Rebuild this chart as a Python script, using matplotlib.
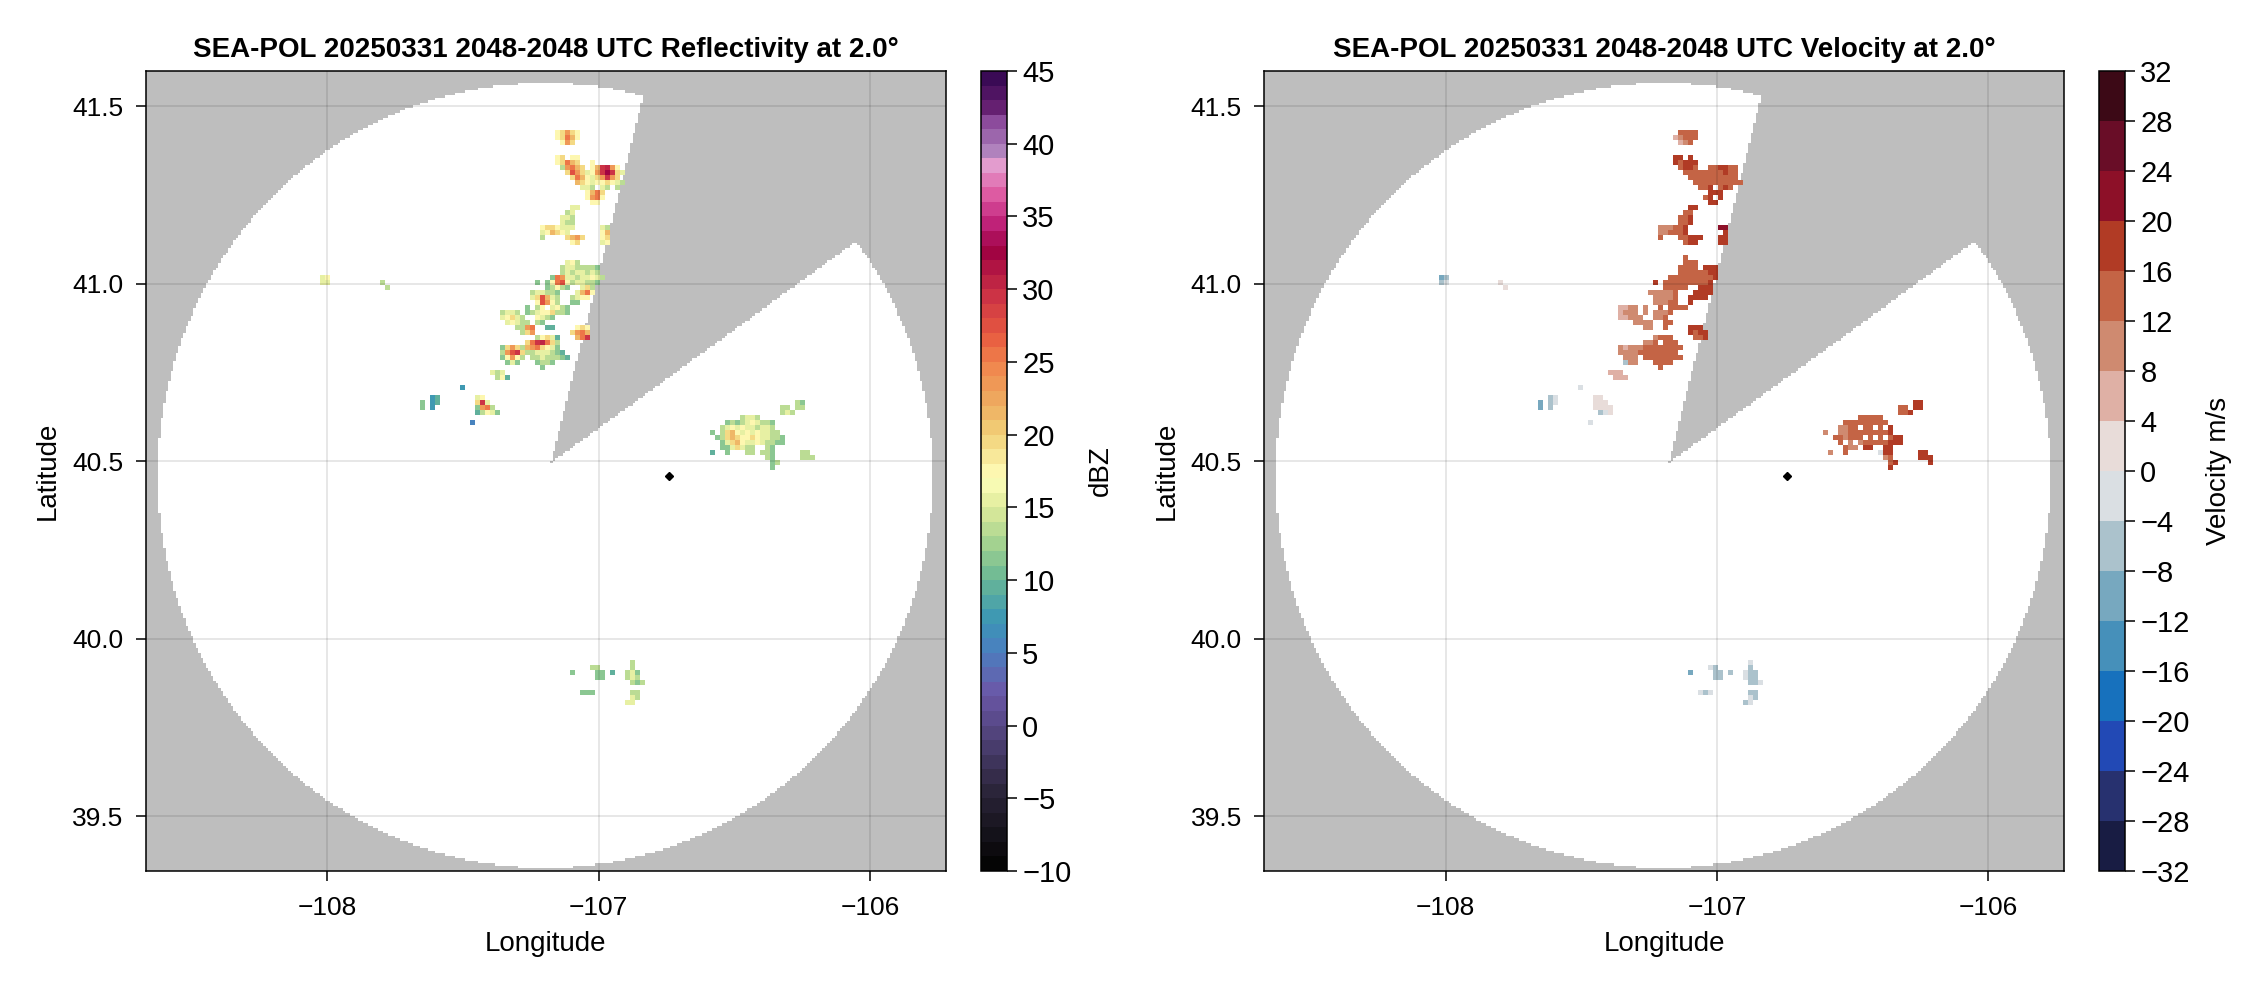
import matplotlib
matplotlib.use("Agg")
import matplotlib.pyplot as plt
import numpy as np
from matplotlib.cm import ScalarMappable
from matplotlib.colors import BoundaryNorm, LinearSegmentedColormap, ListedColormap

plt.rcParams["font.family"] = ["Liberation Sans", "DejaVu Sans"]

# radar coverage
RANGE_CENTER = (-107.197, 40.46)
RANGE_RADIUS = (1.428, 1.106)
BLOCK_APEX = (-107.175, 40.497)
BLOCK_EDGE_A = (-106.837, 41.528)
BLOCK_EDGE_B = (-106.046, 41.122)
STATION = (-106.74, 40.458)

LON_TICKS = [-108, -107, -106]
LAT_TICKS = [39.5, 40.0, 40.5, 41.0, 41.5]
REFL_TICKS = list(range(-10, 46, 5))
VEL_TICKS = list(range(-32, 33, 4))

REFL_KEY = dict(a=5, b=7, c=9, d=11, e=13, f=15, g=17, h=19, i=21, j=23, k=25, l=27, m=29, n=30, o=32)
VEL_KEY = dict(p=2, q=6, r=10, s=14, t=18, u=22, x=-2, y=-6, z=-10)

CELL = (0.0184, 0.01409)

# (row, first column, codes) for each block of echoes
MAIN_ORIGIN = (-107.4185, 41.4346)
MAIN_REFL = [
    (0, 14, "ghjhg"), (1, 14, "ghkig"), (2, 15, "gjh"),
    (5, 14, "gh"), (5, 17, "gg"),
    (6, 14, "ghkih"), (6, 21, "g"),
    (7, 15, "ejkih"), (7, 21, "gimnjg"),
    (8, 16, "hljhfgjmomhf"),
    (9, 17, "hkigfhjmjh"),
    (10, 18, "ihgfgghgfe"),
    (11, 19, "ffe"), (11, 23, "fe"), (11, 26, "e"),
    (12, 20, "gikh"), (13, 20, "gjkg"), (14, 21, "gg"),
    (15, 17, "ff"), (16, 16, "ef"), (17, 15, "ffe"), (18, 15, "fee"),
    (19, 11, "ghhgfff"), (19, 23, "fe"),
    (20, 11, "fgihgf"), (20, 23, "gi"),
    (21, 11, "e"), (21, 16, "hijh"), (21, 23, "gh"),
    (22, 17, "gh"), (22, 23, "fg"),
    (26, 16, "fge"),
    (27, 15, "effeeeed"),
    (28, 15, "efeffefe"),
    (29, 13, "dkjffeffgfe"),
    (30, 10, "d"), (30, 12, "dgklgeffeed"),
    (31, 12, "deged"), (31, 19, "fhe"),
    (32, 9, "effeed"), (32, 18, "fikg"),
    (33, 9, "fhlife"), (33, 17, "efgg"),
    (34, 10, "gljge"), (34, 17, "dd"),
    (35, 8, "d"), (35, 10, "eg"), (35, 13, "fged"),
    (36, 3, "effe"), (36, 8, "de"), (36, 10, "fgghеed".replace("е", "e")),
    (37, 3, "fghfe"), (37, 10, "gfed"),
    (38, 4, "fgfee"), (38, 10, "ed"),
    (39, 6, "eejk"), (39, 12, "cc"), (39, 18, "ghg"),
    (40, 7, "ehj"), (40, 17, "hjki"),
    (41, 10, "eghfc"), (41, 18, "ikm"),
    (42, 8, "hkmnkhe"),
    (43, 3, "dhjhe"), (43, 8, "ijkhgfd"),
    (44, 3, "ejlmh"), (44, 8, "eefffedc"),
    (45, 3, "dgjge"), (45, 9, "eefeeedc"),
    (46, 4, "dfd"), (46, 10, "deed"),
    (47, 11, "d"),
    (48, 1, "fef"), (49, 2, "egc"),
]
MAIN_VEL = [
    (0, 15, "ssss"), (1, 14, "qrsss"), (2, 15, "qrs"),
    (5, 14, "tt"), (5, 17, "t"),
    (6, 14, "tsttt"),
    (7, 15, "st"), (7, 17, "ts"), (7, 21, "ssttss"),
    (8, 16, "sssssssstss"),
    (9, 17, "ssssssssss"),
    (10, 18, "ssssssssss"),
    (11, 19, "sst"), (11, 23, "sts"),
    (12, 21, "ttt"),
    (13, 20, "st"), (13, 23, "t"),
    (14, 21, "tt"),
    (15, 17, "tt"), (16, 16, "ss"), (17, 15, "sst"), (18, 15, "sst"),
    (19, 11, "rrrsst"), (19, 23, "uu"),
    (20, 11, "rrsss"), (20, 16, "t"), (20, 24, "t"),
    (21, 11, "s"), (21, 15, "ssttt"), (21, 23, "tt"),
    (22, 16, "stt"), (22, 23, "tt"),
    (25, 16, "s"), (26, 16, "sss"),
    (27, 15, "ssss"), (27, 20, "ttt"),
    (28, 15, "ssssss"), (28, 21, "tt"),
    (29, 13, "sssssssss"), (29, 22, "t"),
    (30, 10, "t"), (30, 12, "sssssssss"), (30, 21, "t"),
    (31, 12, "sssss"), (31, 19, "ttt"),
    (32, 9, "rrrrrs"), (32, 18, "tttt"),
    (33, 10, "rrrrs"), (33, 17, "tttt"),
    (34, 10, "rrrss"), (34, 17, "t"),
    (35, 3, "qqrr"), (35, 8, "r"), (35, 11, "s"), (35, 13, "ssss"),
    (36, 3, "qrrr"), (36, 8, "r"), (36, 10, "rrrs"),
    (37, 3, "qqrrr"), (37, 10, "rrs"),
    (38, 6, "rrrr"), (38, 12, "ss"),
    (39, 8, "rr"), (39, 12, "s"), (39, 17, "ttt"),
    (40, 17, "tstt"),
    (41, 10, "rsss"), (41, 18, "sst"),
    (42, 8, "rrs"), (42, 12, "sss"),
    (43, 3, "rqrrrssssssss"),
    (44, 3, "rrrrsssss"), (44, 12, "sss"),
    (45, 4, "rrr"), (45, 8, "ssssssss"),
    (46, 4, "yrr"), (46, 10, "ssss"),
    (47, 11, "s"),
    (48, 1, "qqq"), (49, 2, "qqq"),
]

WEST_ORIGIN = (-107.6577, 40.7161)
WEST_REFL = [
    (0, 8, "b"),
    (2, 2, "bc"), (2, 11, "fg"),
    (3, 0, "d"), (3, 2, "bc"), (3, 11, "hmf"),
    (4, 0, "d"), (4, 2, "b"), (4, 11, "djke"),
    (5, 11, "cegfd"),
    (7, 10, "a"),
]
WEST_VEL = [
    (0, 8, "x"),
    (2, 2, "yx"), (2, 11, "pp"),
    (3, 0, "z"), (3, 2, "yx"), (3, 11, "ppp"),
    (4, 0, "z"), (4, 2, "y"), (4, 11, "pppp"),
    (5, 12, "yxp"),
    (7, 10, "x"),
]

EAST_ORIGIN = (-106.664, 40.7302)
EAST_REFL = [
    (4, 21, "ed"),
    (5, 18, "ee"), (5, 21, "ee"),
    (6, 18, "efe"),
    (7, 10, "effe"),
    (8, 7, "dedefgfeed"),
    (9, 6, "efgfgffeffe"),
    (10, 4, "d"), (10, 6, "ehigfgfgffee"),
    (11, 5, "dehihgghgffeed"),
    (12, 6, "dfhigffgfeedd"),
    (13, 6, "ddfhfee"), (13, 15, "ed"),
    (14, 4, "c"), (14, 7, "d"), (14, 11, "ee"), (14, 14, "eed"), (14, 22, "ee"),
    (15, 15, "ed"), (15, 22, "eee"),
    (16, 16, "de"), (17, 16, "d"),
]
EAST_VEL = [
    (4, 21, "tt"),
    (5, 18, "ss"), (5, 21, "tt"),
    (6, 18, "sst"),
    (7, 10, "sssss"),
    (8, 7, "sssssssss"),
    (9, 6, "rrss"), (9, 11, "ss"), (9, 14, "s"), (9, 16, "t"),
    (10, 3, "r"), (10, 6, "rrsssssssst"),
    (11, 5, "ssrsss"), (11, 12, "s"), (11, 14, "s"), (11, 16, "stt"),
    (12, 6, "s"), (12, 8, "r"), (12, 10, "rsssssttt"),
    (13, 7, "srr"), (13, 11, "tt"), (13, 15, "tt"),
    (14, 4, "r"), (14, 7, "s"), (14, 14, "xtt"), (14, 22, "tt"),
    (15, 15, "rs"), (15, 22, "ttt"),
    (16, 16, "st"), (16, 24, "t"), (17, 16, "t"),
]

SOUTH_ORIGIN = (-107.1056, 39.9694)
SOUTH_REFL = [
    (2, 12, "e"),
    (3, 4, "ee"), (3, 12, "e"),
    (4, 0, "d"), (4, 5, "dd"), (4, 8, "c"), (4, 11, "efd"),
    (5, 5, "dd"), (5, 11, "efe"),
    (6, 12, "ede"),
    (8, 2, "ddd"), (8, 12, "ee"),
    (9, 12, "fe"), (10, 11, "ff"),
]
SOUTH_VEL = [
    (2, 12, "x"),
    (3, 4, "xy"), (3, 12, "y"),
    (4, 0, "z"), (4, 5, "yy"), (4, 8, "y"), (4, 11, "xyy"),
    (5, 5, "yy"), (5, 11, "xyy"),
    (6, 12, "yyx"),
    (8, 2, "xyx"), (8, 12, "yy"),
    (9, 12, "xy"), (10, 11, "yx"),
]

SPECK_ORIGIN = (-108.0257, 41.0261)
SPECK_REFL = [(0, 0, "fg"), (1, 0, "ff"), (1, 12, "e"), (2, 13, "e")]
SPECK_VEL = [(0, 0, "zy"), (1, 0, "yx"), (1, 12, "p"), (2, 13, "p")]

REFL_BLOCKS = [(MAIN_ORIGIN, MAIN_REFL), (WEST_ORIGIN, WEST_REFL), (EAST_ORIGIN, EAST_REFL),
               (SOUTH_ORIGIN, SOUTH_REFL), (SPECK_ORIGIN, SPECK_REFL)]
VEL_BLOCKS = [(MAIN_ORIGIN, MAIN_VEL), (WEST_ORIGIN, WEST_VEL), (EAST_ORIGIN, EAST_VEL),
              (SOUTH_ORIGIN, SOUTH_VEL), (SPECK_ORIGIN, SPECK_VEL)]

refl_anchors = ["#050505", "#2a2438", "#5a4a8a", "#6a58a8", "#4a80c0", "#3a95b5", "#6ab895", "#a5d390",
                "#e0ec9c", "#ffffbb", "#f2d27a", "#eeb062", "#f0844c", "#e75a40", "#c92f45", "#9e0142",
                "#c2257e", "#df5fa5", "#e3a0d0", "#ab7fbb", "#8b4a9b", "#641e6f", "#3a0a55"]
refl_at = [-10, -5, 0, 2, 5, 7, 10, 12.5, 15, 17, 20, 22, 25, 27, 30, 33, 35, 37, 39, 40, 42, 43, 45]
refl_cmap = LinearSegmentedColormap.from_list(
    "refl", [((v + 10) / 55, c) for v, c in zip(refl_at, refl_anchors)], N=55)
refl_norm = BoundaryNorm(np.arange(-10, 46, 1), 55)

vel_cmap = ListedColormap(["#181c43", "#27316f", "#2249b5", "#1771bd", "#4690ba", "#77a8bf", "#abc2cc", "#dadfe3",
                           "#e8dcd9", "#dfb0a5", "#cf8a70", "#c46445", "#b13b25", "#8d1028", "#690d27", "#3c0916"])
vel_norm = BoundaryNorm(np.arange(-32, 33, 4), 16)

XLIM = (-108.669, -105.72)
YLIM = (39.346, 41.60)
W, H = 2262, 990


def side(p, a, b):
    return (b[0] - a[0]) * (p[1] - a[1]) - (b[1] - a[1]) * (p[0] - a[0])


def draw_coverage(ax):
    lon = np.arange(XLIM[0], XLIM[1] + 0.0092, 0.0092)
    lat = np.arange(YLIM[0], YLIM[1] + 0.00705, 0.00705)
    lo, la = np.meshgrid(lon[:-1] + 0.0046, lat[:-1] + 0.00352)
    inside = ((lo - RANGE_CENTER[0]) / RANGE_RADIUS[0]) ** 2 + ((la - RANGE_CENTER[1]) / RANGE_RADIUS[1]) ** 2 <= 1
    blocked = (side((lo, la), BLOCK_APEX, BLOCK_EDGE_A) <= 0) & (side((lo, la), BLOCK_APEX, BLOCK_EDGE_B) >= 0)
    ok = inside & ~blocked
    ax.pcolormesh(lon, lat, ok.astype(float), cmap=ListedColormap(["#bebebe", "#ffffff"]), vmin=0, vmax=1,
                  antialiased=False, zorder=1, rasterized=True)


def draw_echoes(ax, blocks, key, cmap, norm):
    for (lon0, lat0), cells in blocks:
        n_rows = max(c[0] for c in cells) + 1
        n_cols = max(c[1] + len(c[2]) for c in cells)
        grid = np.full((n_rows, n_cols), np.nan)
        for row, col, codes in cells:
            for i, code in enumerate(codes):
                grid[row, col + i] = key[code]
        lon = lon0 + CELL[0] * np.arange(n_cols + 1)
        lat = lat0 - CELL[1] * np.arange(n_rows + 1)
        ax.pcolormesh(lon, lat, np.ma.masked_invalid(grid), cmap=cmap, norm=norm, antialiased=False, zorder=2)


def panel(left, cbar_left, title, blocks, key, cmap, norm, ticks, cbar_label, label_x):
    ax = fig.add_axes([left / W, 1 - 871 / H, 800.3 / W, 800 / H])
    draw_coverage(ax)
    draw_echoes(ax, blocks, key, cmap, norm)
    ax.plot(*STATION, marker="D", ms=4, color="black", zorder=4)
    ax.set_xlim(*XLIM)
    ax.set_ylim(*YLIM)
    ax.set_xticks(LON_TICKS)
    ax.set_yticks(LAT_TICKS)
    ax.set_yticklabels([f"{v:.1f}" for v in LAT_TICKS])
    ax.grid(True, color="black", alpha=0.12, linewidth=1.1, zorder=3)
    ax.set_axisbelow(False)
    ax.tick_params(labelsize=19, length=7, width=1.1)
    ax.tick_params(axis="x", pad=11)
    ax.tick_params(axis="y", pad=9)
    ax.set_xlabel("Longitude", fontsize=20, labelpad=8)
    ax.set_ylabel("Latitude", fontsize=20, labelpad=8)
    ax.set_title(title, fontsize=20, fontweight="bold", pad=10)
    for spine in ax.spines.values():
        spine.set_linewidth(1.1)

    cax = fig.add_axes([cbar_left / W, 1 - 871 / H, 26 / W, 800 / H])
    cb = fig.colorbar(ScalarMappable(norm=norm, cmap=cmap), cax=cax, ticks=ticks, spacing="proportional")
    cb.ax.tick_params(labelsize=21, length=7, width=1.1, pad=4)
    cb.ax.minorticks_off()
    cb.outline.set_linewidth(1.1)
    fig.text(label_x / W, 1 - 471 / H, cbar_label, rotation=90, ha="center", va="center", fontsize=20)


fig = plt.figure(figsize=(W / 100, H / 100), dpi=100)
panel(145.7, 981, "SEA-POL 20250331 2048-2048 UTC Reflectivity at 2.0°", REFL_BLOCKS, REFL_KEY,
      refl_cmap, refl_norm, REFL_TICKS, "dBZ", 1101)
panel(1264, 2099, "SEA-POL 20250331 2048-2048 UTC Velocity at 2.0°", VEL_BLOCKS, VEL_KEY,
      vel_cmap, vel_norm, VEL_TICKS, "Velocity m/s", 2219)
fig.savefig("out.png", dpi=100)
